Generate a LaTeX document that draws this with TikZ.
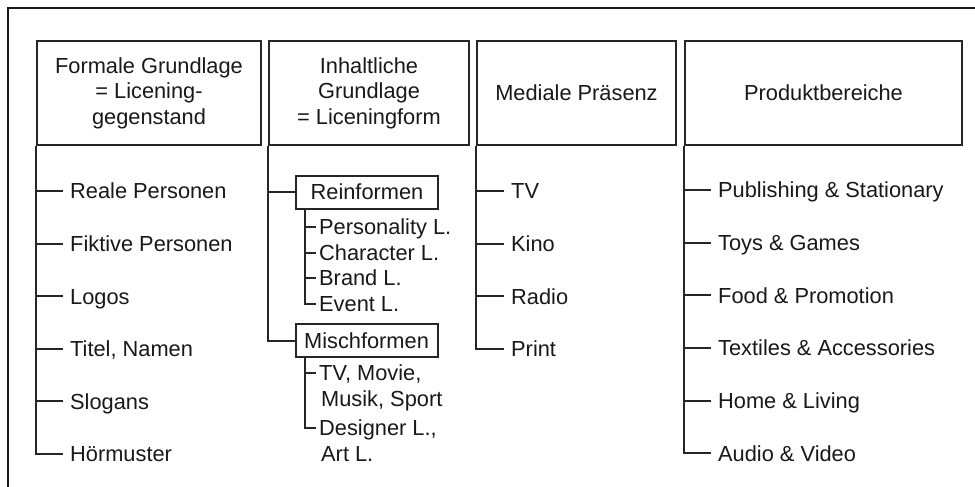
\documentclass[tikz,border=0pt]{standalone}
\usepackage{fontspec}
\setmainfont{Liberation Sans}
\begin{document}
\begin{tikzpicture}[x=1pt,y=-1pt,
  font=\fontsize{21.8}{25.5}\selectfont,
  every node/.style={text=black!90},
  ln/.style={draw=black!85, line width=2pt},
  hdr/.style={ln, align=center, inner sep=0pt},
  item/.style={anchor=west, inner ysep=0pt, inner xsep=7pt, text height=15.6pt, text depth=0pt},
  sub/.style={item, inner xsep=3pt},
  formbox/.style={ln, minimum width=142pt, minimum height=33pt, inner sep=0pt}
]
\useasboundingbox (0,0) rectangle (975,487);
\fill[white] (0,0) rectangle (975,487);

% outer frame (top and left edge)
\draw[line width=2.6pt, black!90] (8,487) -- (8,8) -- (975,8);

% column headers
\node[hdr, minimum width=224pt, minimum height=104pt] (h1) at (149,93)
  {Formale Grundlage\\= Licening-\\gegenstand};
\node[hdr, minimum width=200pt, minimum height=104pt] (h2) at (369,93)
  {Inhaltliche\\Grundlage\\= Liceningform};
\node[hdr, minimum width=199pt, minimum height=104pt] (h3) at (576.5,93)
  {Mediale Präsenz};
\node[hdr, minimum width=277pt, minimum height=104pt] (h4) at (823.5,93)
  {Produktbereiche};

% column 1
\node[item] (a1) at (63,191)   {Reale Personen};
\node[item] (a2) at (63,243.6) {Fiktive Personen};
\node[item] (a3) at (63,296.2) {Logos};
\node[item] (a4) at (63,348.8) {Titel, Namen};
\node[item] (a5) at (63,401.4) {Slogans};
\node[item] (a6) at (63,454)   {Hörmuster};
\draw[ln] (h1.south west) |- (a6.west);
\foreach \n in {a1,a2,a3,a4,a5}
  \draw[ln] (h1.south west |- \n.west) -- (\n.west);

% column 2
\node[formbox] (re) at (367,192)   {Reinformen};
\node[formbox] (mi) at (366.5,340.5) {Mischformen};
\draw[ln] (h2.south west) |- (mi.west);
\draw[ln] (h2.south west |- re.west) -- (re.west);

\coordinate (rt) at ([xshift=10pt]re.south west);
\node[sub] (r1) at (316,227) {Personality L.};
\node[sub] (r2) at (316,252.5) {Character L.};
\node[sub] (r3) at (316,278) {Brand L.};
\node[sub] (r4) at (316,304) {Event L.};
\draw[ln] (rt) |- (r4.west);
\foreach \n in {r1,r2,r3}
  \draw[ln] (rt |- \n.west) -- (\n.west);

\coordinate (mt) at ([xshift=10pt]mi.south west);
\node[sub] (m1) at (316,373) {TV, Movie,};
\node[sub] (m2) at (318,399)   {Musik, Sport};
\node[sub] (m3) at (316,428) {Designer L.,};
\node[sub] (m4) at (318,454)   {Art L.};
\draw[ln] (mt) |- (m3.west);
\draw[ln] (mt |- m1.west) -- (m1.west);

% column 3
\node[item] (b1) at (504,191)   {TV};
\node[item] (b2) at (504,243.6) {Kino};
\node[item] (b3) at (504,296.2) {Radio};
\node[item] (b4) at (504,348.8) {Print};
\draw[ln] (h3.south west) |- (b4.west);
\foreach \n in {b1,b2,b3}
  \draw[ln] (h3.south west |- \n.west) -- (\n.west);

% column 4
\node[item] (c1) at (711,190)   {Publishing \& Stationary};
\node[item] (c2) at (711,242.7) {Toys \& Games};
\node[item] (c3) at (711,295.3) {Food \& Promotion};
\node[item] (c4) at (711,348)   {Textiles \& Accessories};
\node[item] (c5) at (711,400.7) {Home \& Living};
\node[item] (c6) at (711,453.3) {Audio \& Video};
\draw[ln] (h4.south west) |- (c6.west);
\foreach \n in {c1,c2,c3,c4,c5}
  \draw[ln] (h4.south west |- \n.west) -- (\n.west);
\end{tikzpicture}
\end{document}
